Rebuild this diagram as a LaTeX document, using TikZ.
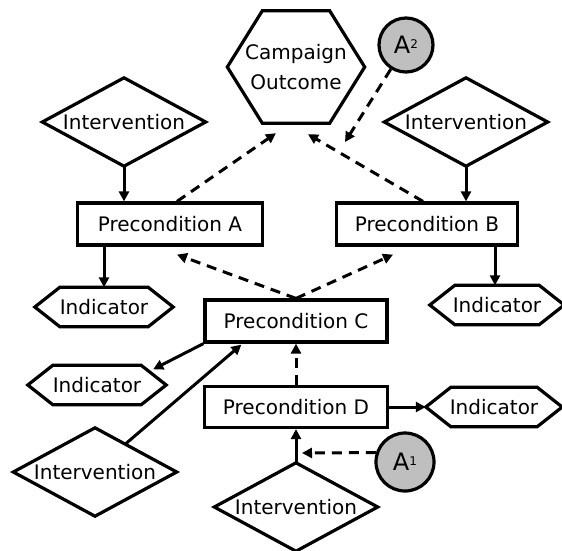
\documentclass[tikz,border=0pt]{standalone}
\usepackage{fontspec}
\setmainfont{DejaVu Sans}
\usetikzlibrary{arrows.meta,calc}
\begin{document}
\begin{tikzpicture}[x=1pt,y=-1pt,
  lbl/.style={inner sep=0pt, font=\fontsize{20}{30}\selectfont, align=center},
  outline/.style={line width=3.2pt, line join=miter},
  prebox/.style={lbl, draw, line width=3.2pt, minimum height=42pt},
  diam/.style={lbl, minimum width=163pt, minimum height=88pt},
  indic/.style={lbl, minimum width=138pt, minimum height=39pt},
  assume/.style={circle, draw, line width=3.2pt, fill=black!25, minimum size=56pt, inner sep=0pt,
                 font=\fontsize{24}{24}\selectfont},
  link/.style={line width=3pt, -{Triangle[length=10pt,width=10pt]}},
  dlink/.style={link, dash pattern=on 10pt off 7pt},
]
\useasboundingbox (0,0) rectangle (562,550);

% outcome
\node[lbl, minimum width=137pt, minimum height=112pt] (outcome) at (296,67) {Campaign\\Outcome};
\draw[outline] ($(outcome.north west)+(35,0)$) -- ($(outcome.north east)+(-35,0)$) -- (outcome.east)
  -- ($(outcome.south east)+(-35,0)$) -- ($(outcome.south west)+(35,0)$) -- (outcome.west) -- cycle;

% assumptions
\node[assume, minimum size=54pt] (a2) at (406,45) {A\raisebox{5pt}{\fontsize{12}{12}\selectfont 2}};
\node[assume, minimum size=58pt] (a1) at (405,462) {A\raisebox{5pt}{\fontsize{12}{12}\selectfont 1}};

% interventions
\node[diam] (ia) at (124,122) {Intervention};
\node[diam] (ib) at (466,122) {Intervention};
\node[diam] (ic) at (95,472) {Intervention};
\node[diam] (id) at (296,507) {Intervention};
\foreach \n in {ia,ib,ic,id}
  \draw[outline] (\n.west) -- (\n.north) -- (\n.east) -- (\n.south) -- cycle;

% preconditions
\node[prebox, minimum width=185pt] (pa) at (170,224) {Precondition A};
\node[prebox, minimum width=181pt] (pb) at (427,224) {Precondition B};
\node[prebox, minimum width=182pt] (pc) at (296,321) {Precondition C};
\node[prebox, minimum width=183pt, minimum height=41pt] (pd) at (296,407) {Precondition D};

% indicators
\node[indic] (xa) at (104,307) {Indicator};
\node[indic, minimum width=134pt] (xb) at (497,305) {Indicator};
\node[indic] (xc) at (97,385) {Indicator};
\node[indic, minimum width=136pt] (xd) at (494,407) {Indicator};
\foreach \n in {xa,xb,xc,xd}
  \draw[outline] ($(\n.north west)+(25,0)$) -- ($(\n.north east)+(-25,0)$) -- (\n.east)
    -- ($(\n.south east)+(-25,0)$) -- ($(\n.south west)+(25,0)$) -- (\n.west) -- cycle;

% free ends
\coordinate (a2tip) at (345,142);
\coordinate (a1tip) at (302,453);

% solid links
\draw[link] (ia.south) -- (ia.south |- pa.north);
\draw[link] (ib.south) -- (ib.south |- pb.north);
\draw[link] (xa.north |- pa.south) -- (xa.north);
\draw[link] ($(xb.north |- pb.south)+(-2,0)$) -- ($(xb.north)+(-2,0)$);
\draw[link] (pd.east) -- (xd.west);
\draw[link] (id.north) -- (pd.south);
\draw[link] (pc.south west) -- ($(xc.north east)+(-13,4)$);
\draw[link] ($(ic.north)!0.37!(ic.east)$) -- ($(pc.south west)+(38,1)$);

% dashed links
\draw[dlink] ($(pa.north)+(7,0)$) -- ($(outcome.south)+(-20,10)$);
\draw[dlink] ($(pb.north)+(-4,0)$) -- ($(outcome.south)+(12,11)$);
\draw[dlink] (a2) -- (a2tip);
\draw[dlink] (pc.north) -- ($(pa.south)+(7,8)$);
\draw[dlink] (pc.north) -- ($(pb.south)+(-34,8)$);
\draw[dlink] (pd.north) -- (pc.south);
\draw[dlink] (a1.162) -- (a1tip);
\end{tikzpicture}
\end{document}
